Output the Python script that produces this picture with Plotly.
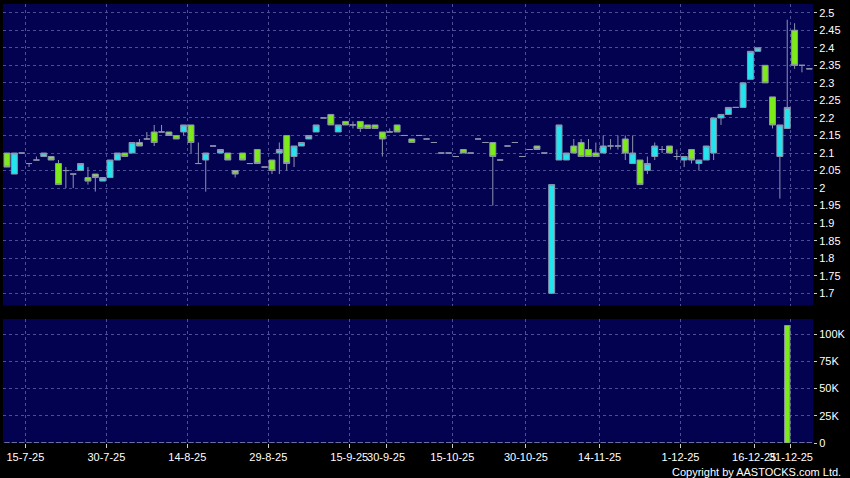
import plotly.graph_objects as go

# ---- data ----
opens = [2.10, 2.04, 2.10, 2.07, 2.08, 2.09, 2.09, 2.07, 2.05, 2.04,
         2.05, 2.03, 2.04, 2.02, 2.03, 2.08, 2.10, 2.10, 2.13, 2.14,
         2.16, 2.16, 2.16, 2.15, 2.16, 2.18, 2.07, 2.08, 2.12, 2.10,
         2.10, 2.05, 2.10, 2.07, 2.11, 2.06, 2.08, 2.10, 2.15, 2.09,
         2.12, 2.14, 2.16, 2.20, 2.21, 2.16, 2.19, 2.18, 2.19, 2.18,
         2.18, 2.16, 2.16, 2.18, 2.15, 2.14, 2.15, 2.14, 2.13, 2.10,
         2.10, 2.09, 2.11, 2.10, 2.14, 2.13, 2.13, 2.08, 2.12, 2.13,
         2.09, 2.11, 2.12, 2.10, 1.70, 2.08, 2.08, 2.12, 2.13, 2.11,
         2.10, 2.10, 2.12, 2.12, 2.14, 2.07, 2.08, 2.05, 2.09, 2.11,
         2.12, 2.09, 2.08, 2.11, 2.07, 2.08, 2.10, 2.20, 2.21, 2.23,
         2.23, 2.31, 2.39, 2.35, 2.26, 2.09, 2.17, 2.45, 2.35, 2.34]
highs = [2.10, 2.10, 2.10, 2.07, 2.09, 2.10, 2.09, 2.08, 2.06, 2.04,
         2.07, 2.06, 2.04, 2.03, 2.08, 2.10, 2.10, 2.13, 2.14, 2.16,
         2.18, 2.18, 2.16, 2.15, 2.18, 2.18, 2.13, 2.10, 2.12, 2.11,
         2.10, 2.05, 2.10, 2.07, 2.11, 2.06, 2.08, 2.13, 2.15, 2.12,
         2.13, 2.15, 2.18, 2.20, 2.21, 2.18, 2.19, 2.19, 2.19, 2.18,
         2.18, 2.16, 2.17, 2.18, 2.15, 2.14, 2.15, 2.14, 2.13, 2.10,
         2.10, 2.09, 2.11, 2.10, 2.14, 2.13, 2.13, 2.08, 2.12, 2.13,
         2.09, 2.11, 2.12, 2.10, 2.01, 2.18, 2.10, 2.14, 2.14, 2.14,
         2.13, 2.15, 2.14, 2.15, 2.15, 2.15, 2.08, 2.09, 2.13, 2.12,
         2.12, 2.11, 2.09, 2.11, 2.08, 2.12, 2.20, 2.21, 2.23, 2.23,
         2.30, 2.39, 2.40, 2.35, 2.26, 2.18, 2.48, 2.47, 2.35, 2.34]
lows = [2.06, 2.04, 2.10, 2.06, 2.08, 2.09, 2.08, 2.01, 2.00, 2.00,
        2.05, 2.01, 1.99, 2.02, 2.03, 2.08, 2.09, 2.10, 2.12, 2.14,
        2.12, 2.16, 2.15, 2.14, 2.15, 2.10, 2.07, 1.99, 2.12, 2.10,
        2.08, 2.03, 2.08, 2.07, 2.07, 2.06, 2.04, 2.04, 2.05, 2.06,
        2.12, 2.14, 2.16, 2.20, 2.18, 2.16, 2.18, 2.17, 2.16, 2.17,
        2.17, 2.09, 2.16, 2.16, 2.15, 2.13, 2.15, 2.14, 2.13, 2.10,
        2.10, 2.09, 2.10, 2.10, 2.14, 2.13, 1.95, 2.08, 2.12, 2.13,
        2.09, 2.11, 2.11, 2.10, 1.70, 2.08, 2.08, 2.10, 2.09, 2.09,
        2.09, 2.10, 2.11, 2.11, 2.08, 2.07, 2.01, 2.04, 2.08, 2.10,
        2.10, 2.08, 2.06, 2.07, 2.05, 2.08, 2.08, 2.18, 2.21, 2.23,
        2.23, 2.31, 2.39, 2.30, 2.17, 1.97, 2.17, 2.34, 2.33, 2.34]
closes = [2.06, 2.10, 2.10, 2.07, 2.08, 2.10, 2.08, 2.01, 2.05, 2.04,
          2.07, 2.02, 2.03, 2.03, 2.08, 2.10, 2.09, 2.13, 2.12, 2.14,
          2.13, 2.16, 2.15, 2.14, 2.18, 2.13, 2.07, 2.10, 2.12, 2.11,
          2.08, 2.04, 2.08, 2.07, 2.07, 2.06, 2.05, 2.11, 2.07, 2.12,
          2.13, 2.15, 2.18, 2.20, 2.18, 2.18, 2.18, 2.18, 2.17, 2.17,
          2.17, 2.14, 2.16, 2.16, 2.15, 2.13, 2.15, 2.14, 2.13, 2.10,
          2.10, 2.09, 2.10, 2.10, 2.14, 2.13, 2.09, 2.08, 2.12, 2.13,
          2.09, 2.11, 2.11, 2.10, 2.01, 2.18, 2.10, 2.10, 2.09, 2.09,
          2.09, 2.12, 2.12, 2.12, 2.10, 2.10, 2.01, 2.07, 2.12, 2.11,
          2.10, 2.09, 2.09, 2.08, 2.08, 2.12, 2.20, 2.21, 2.23, 2.23,
          2.30, 2.39, 2.40, 2.30, 2.18, 2.18, 2.23, 2.35, 2.35, 2.34]
volumes = [0] * 106 + [108000, 0, 0, 0]

date_labels = ["15-7-25", "30-7-25", "14-8-25", "29-8-25", "15-9-25", "30-9-25",
               "15-10-25", "30-10-25", "14-11-25", "1-12-25", "16-12-25", "31-12-25"]
date_label_idx = [2, 13, 24, 35, 46, 51, 60, 70, 80, 91, 101, 106]

price_ticks = [2.5, 2.45, 2.4, 2.35, 2.3, 2.25, 2.2, 2.15, 2.1, 2.05, 2.0,
               1.95, 1.9, 1.85, 1.8, 1.75, 1.7]
price_tick_text = ["2.5", "2.45", "2.4", "2.35", "2.3", "2.25", "2.2", "2.15", "2.1",
                   "2.05", "2", "1.95", "1.9", "1.85", "1.8", "1.75", "1.7"]
vol_ticks = [0, 25000, 50000, 75000, 100000]
vol_tick_text = ["0", "25K", "50K", "75K", "100K"]

# ---- styling ----
CYAN = "#22E4EE"
GREEN = "#7DEB17"
EDGE = "#8E93AE"
BG = "#020250"
GRID = "#4E4E96"
FONT = "Liberation Sans Narrow, Arial Narrow, Liberation Sans, Arial, sans-serif"

idx = list(range(len(opens)))
grid_pos = [i + 0.5 for i in date_label_idx]

fig = go.Figure()
fig.add_trace(go.Candlestick(
    x=idx, open=opens, high=highs, low=lows, close=closes,
    xaxis="x2", yaxis="y2",
    increasing=dict(fillcolor=CYAN, line=dict(color=EDGE, width=1)),
    decreasing=dict(fillcolor=GREEN, line=dict(color=EDGE, width=1)),
    whiskerwidth=0, showlegend=False, hoverinfo="skip",
))
fig.add_trace(go.Bar(
    x=idx, y=volumes, xaxis="x", yaxis="y", width=0.72,
    marker=dict(color=GREEN, line=dict(color=EDGE, width=1)),
    showlegend=False, hoverinfo="skip",
))

xrange = [-0.54, 109.5]
common_x = dict(range=xrange, showgrid=True, gridcolor=GRID, griddash="3px,3px",
                gridwidth=1, zeroline=False, showline=False, automargin=False,
                tickmode="array", tickvals=grid_pos, fixedrange=True)
common_y = dict(side="right", ticks="outside", ticklen=3, tickcolor="#cccccc",
                showgrid=True, gridcolor=GRID, griddash="3px,3px", zeroline=False,
                automargin=False, fixedrange=True, tickmode="array",
                tickfont=dict(size=11, color="white"))

fig.update_layout(
    width=850, height=478, autosize=False,
    paper_bgcolor="black", plot_bgcolor=BG,
    margin=dict(l=3, r=37, t=4, b=35, pad=0, autoexpand=False),
    font=dict(family=FONT, size=11, color="white"),
    boxgap=0.1, boxgroupgap=0.1,
    xaxis=dict(domain=[0, 1], anchor="y", ticktext=date_labels, ticks="outside",
               ticklen=4, tickcolor="#cccccc", tickangle=0,
               rangeslider=dict(visible=False),
               tickfont=dict(size=11, color="white"), **common_x),
    xaxis2=dict(domain=[0, 1], anchor="y2", matches="x", showticklabels=False, ticks="",
                rangeslider=dict(visible=False), **common_x),
    yaxis=dict(domain=[0, 0.2825], anchor="x", range=[0, 114000],
               tickvals=vol_ticks, ticktext=vol_tick_text, **common_y),
    yaxis2=dict(domain=[0.3132, 1], anchor="x2", range=[1.6653, 2.5248],
                tickvals=price_ticks, ticktext=price_tick_text, **common_y),
    annotations=[dict(text="Copyright by AASTOCKS.com Ltd.", xref="paper", yref="paper",
                      x=1.0367, y=-0.0653, xanchor="right", yanchor="middle",
                      showarrow=False, font=dict(size=11, color="white", family=FONT))],
)

fig.write_html(
    "out.html",
    config={"displayModeBar": False, "staticPlot": True},
    post_script="document.body.style.margin='0';document.body.style.background='black';",
)
